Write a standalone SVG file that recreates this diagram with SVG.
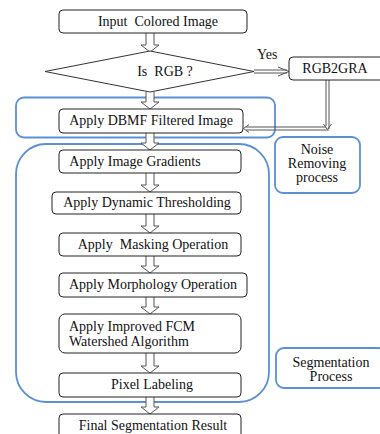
<svg xmlns="http://www.w3.org/2000/svg" width="380" height="434" viewBox="0 0 380 434">
<defs>
<style>
.box{fill:#fff;stroke:#222;stroke-width:1}
.grp{fill:none;stroke:#5b8fd6;stroke-width:1.8}
.lbl{fill:#fff;stroke:#5b8fd6;stroke-width:1.8}
text{font-family:"Liberation Serif","Times New Roman",Times,serif;font-size:14px;fill:#111;white-space:pre}
.c{text-anchor:middle}
.ha{fill:#fff;stroke:#555;stroke-width:1}
.dl{fill:none;stroke:#555;stroke-width:1}
</style>
</defs>
<rect width="380" height="434" fill="#fff"/>

<g id="noise-group"><rect class="grp" x="16" y="97.5" width="259" height="40" rx="8"/></g>
<g id="seg-group"><rect class="grp" x="16" y="144" width="253" height="258" rx="30"/></g>

<g id="connectors">
<path class="ha" d="M146,33 V45 H141 L150,52 L159,45 H154 V33"/>
<path class="ha" d="M146,92 V102 H141 L150,109 L159,102 H154 V92"/>
<path class="ha" d="M146,133 V143 H141 L150,150 L159,143 H154 V133"/>
<path class="ha" d="M146,173 V185 H141 L150,192 L159,185 H154 V173"/>
<path class="ha" d="M146,214 V226 H141 L150,233 L159,226 H154 V214"/>
<path class="ha" d="M146,256 V266 H141 L150,273 L159,266 H154 V256"/>
<path class="ha" d="M146,297 V307 H141 L150,314 L159,307 H154 V297"/>
<path class="ha" d="M146,353 V366 H141 L150,373 L159,366 H154 V353"/>
<path class="ha" d="M146,397 V407 H141 L150,414 L159,407 H154 V397"/>
<path class="dl" d="M254,70 H287 M254,73 H287"/>
<path class="dl" d="M278,67 L289,71.5 L278,76"/>
<path class="dl" d="M326,80 V126 M329,80 V129"/>
<path class="dl" d="M323.5,124 L327.5,129.5 L331.5,124"/>
<path class="dl" d="M246,127 H326 M246,130 H329"/>
<path class="dl" d="M249,124.5 L243.5,128.5 L249,132.5"/>
</g>

<g id="input"><rect class="box" x="59" y="10" width="188" height="23" rx="4"/><text class="c" x="158" y="26">Input  Colored Image</text></g>
<g id="is-rgb"><polygon points="45,71.5 150,51 254,71.5 150,92" fill="#fff" stroke="#333" stroke-width="1"/><text class="c" x="165" y="76">Is  RGB ?</text></g>
<g id="yes-label"><text x="257" y="59">Yes</text></g>
<g id="rgb2gra"><rect class="box" x="289" y="57" width="95" height="23" rx="4"/><text class="c" x="335" y="73">RGB2GRA</text></g>
<g id="dbmf"><rect class="box" x="59" y="109" width="184" height="24" rx="4"/><text class="c" x="151" y="125">Apply DBMF Filtered Image</text></g>
<g id="noise-label"><rect class="lbl" x="275" y="137" width="85" height="56" rx="8"/><text class="c" x="317" y="154">Noise</text><text class="c" x="317" y="168">Removing</text><text class="c" x="317" y="182">process</text></g>
<g id="gradients"><rect class="box" x="59" y="150" width="182" height="23" rx="4"/><text class="c" x="135" y="166">Apply Image Gradients</text></g>
<g id="threshold"><rect class="box" x="52" y="192" width="189" height="22" rx="4"/><text class="c" x="147" y="207">Apply Dynamic Thresholding</text></g>
<g id="masking"><rect class="box" x="59" y="233" width="182" height="23" rx="4"/><text class="c" x="153" y="249">Apply  Masking Operation</text></g>
<g id="morphology"><rect class="box" x="59" y="273" width="188" height="24" rx="4"/><text class="c" x="153" y="289">Apply Morphology Operation</text></g>
<g id="fcm"><rect class="box" x="59" y="314" width="182" height="39" rx="6"/><text x="69" y="331">Apply Improved FCM</text><text x="69" y="346">Watershed Algorithm</text></g>
<g id="pixel"><rect class="box" x="59" y="373" width="182" height="24" rx="4"/><text class="c" x="152" y="389">Pixel Labeling</text></g>
<g id="final"><rect class="box" x="59" y="414" width="182" height="30" rx="4"/><text class="c" x="153" y="430">Final Segmentation Result</text></g>
<g id="seg-label"><rect class="lbl" x="276" y="348" width="110" height="40" rx="8"/><text class="c" x="331" y="367">Segmentation</text><text class="c" x="331" y="381">Process</text></g>
</svg>
